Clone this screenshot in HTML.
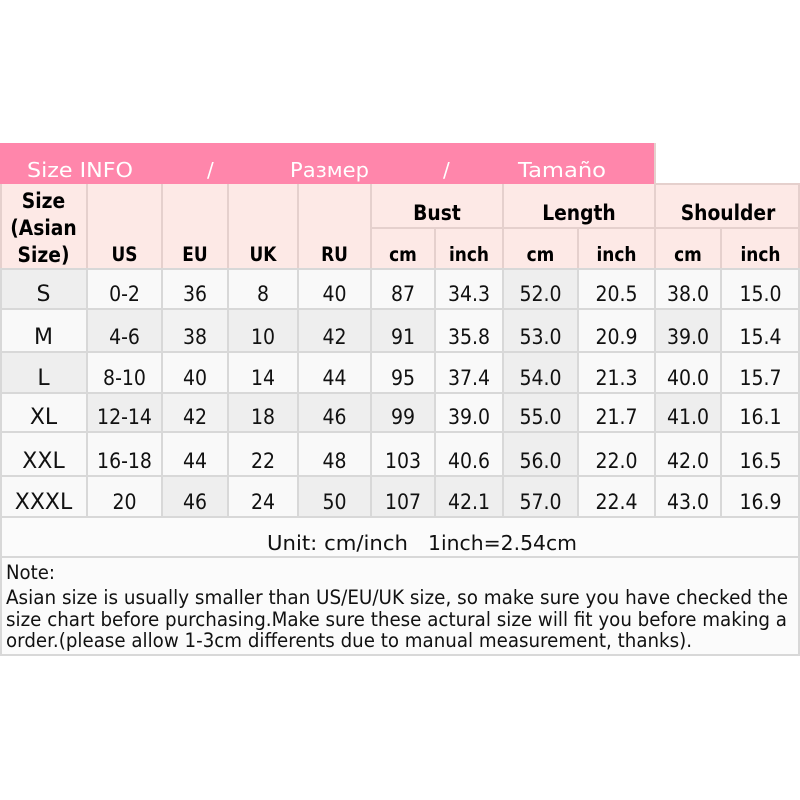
<!DOCTYPE html>
<html><head><meta charset="utf-8"><style>
html,body{margin:0;padding:0;background:#fff;}
svg{display:block;}
text{font-family:"DejaVu Sans","Liberation Sans",sans-serif;}
</style></head><body>
<svg width="800" height="800" viewBox="0 0 800 800" xmlns="http://www.w3.org/2000/svg">
<rect x="0" y="0" width="800" height="800" fill="#ffffff"/>
<!-- pink title band -->
<rect x="0" y="143" width="655" height="41" fill="#ff86ab"/>
<g fill="#ffffff" font-size="20">
<text x="27" y="177" textLength="106" lengthAdjust="spacingAndGlyphs">Size INFO</text>
<text x="207" y="177">/</text>
<text x="290" y="177" textLength="79" lengthAdjust="spacingAndGlyphs">Размер</text>
<text x="443" y="177">/</text>
<text x="518" y="177" textLength="88" lengthAdjust="spacingAndGlyphs">Tamaño</text>
</g>
<!-- header bg -->
<rect x="0" y="184" width="800" height="85" fill="#fde9e6"/>
<!-- data bg -->
<rect x="0" y="269" width="800" height="386" fill="#f9f9f9"/>
<g fill="#eeeeee">
<rect x="0" y="269" width="87" height="40"/>
<rect x="503" y="269" width="75" height="40"/>
<rect x="87" y="309" width="75" height="43"/>
<rect x="162" y="309" width="66" height="43" fill="#f2f2f2"/>
<rect x="228" y="309" width="70" height="43"/>
<rect x="298" y="309" width="73" height="43"/>
<rect x="371" y="309" width="64" height="43"/>
<rect x="503" y="309" width="75" height="43"/>
<rect x="655" y="309" width="66" height="43"/>
<rect x="0" y="352" width="87" height="41"/>
<rect x="503" y="352" width="75" height="41"/>
<rect x="87" y="393" width="75" height="39"/>
<rect x="162" y="393" width="66" height="39" fill="#f2f2f2"/>
<rect x="228" y="393" width="70" height="39"/>
<rect x="298" y="393" width="73" height="39"/>
<rect x="371" y="393" width="64" height="39"/>
<rect x="503" y="393" width="75" height="39"/>
<rect x="655" y="393" width="66" height="39"/>
<rect x="503" y="432" width="75" height="44"/>
<rect x="162" y="476" width="66" height="41"/>
<rect x="298" y="476" width="73" height="41"/>
<rect x="371" y="476" width="64" height="41"/>
<rect x="435" y="476" width="68" height="41"/>
<rect x="503" y="476" width="75" height="41"/>
</g>
<rect x="0" y="517" width="800" height="138" fill="#fbfbfb"/>

<!-- header lines -->
<g stroke="#e5d0cd" stroke-width="2">
<line x1="655" y1="184" x2="800" y2="184"/>
<line x1="371" y1="228" x2="800" y2="228"/>
<line x1="87" y1="184" x2="87" y2="269"/>
<line x1="162" y1="184" x2="162" y2="269"/>
<line x1="228" y1="184" x2="228" y2="269"/>
<line x1="298" y1="184" x2="298" y2="269"/>
<line x1="371" y1="184" x2="371" y2="269"/>
<line x1="503" y1="184" x2="503" y2="269"/>
<line x1="655" y1="143" x2="655" y2="269"/>
<line x1="435" y1="228" x2="435" y2="269"/>
<line x1="578" y1="228" x2="578" y2="269"/>
<line x1="721" y1="228" x2="721" y2="269"/>
<line x1="1" y1="184" x2="1" y2="269"/>
<line x1="799" y1="184" x2="799" y2="269"/>
</g>
<!-- data lines -->
<g stroke="#d8d8d8" stroke-width="2">
<line x1="0" y1="269" x2="800" y2="269"/>
<line x1="0" y1="309" x2="800" y2="309"/>
<line x1="0" y1="352" x2="800" y2="352"/>
<line x1="0" y1="393" x2="800" y2="393"/>
<line x1="0" y1="432" x2="800" y2="432"/>
<line x1="0" y1="476" x2="800" y2="476"/>
<line x1="0" y1="517" x2="800" y2="517"/>
<line x1="0" y1="557" x2="800" y2="557"/>
<line x1="0" y1="655" x2="800" y2="655"/>
<line x1="87" y1="269" x2="87" y2="517"/>
<line x1="162" y1="269" x2="162" y2="517"/>
<line x1="228" y1="269" x2="228" y2="517"/>
<line x1="298" y1="269" x2="298" y2="517"/>
<line x1="371" y1="269" x2="371" y2="517"/>
<line x1="435" y1="269" x2="435" y2="517"/>
<line x1="503" y1="269" x2="503" y2="517"/>
<line x1="578" y1="269" x2="578" y2="517"/>
<line x1="655" y1="269" x2="655" y2="517"/>
<line x1="721" y1="269" x2="721" y2="517"/>
<line x1="1" y1="269" x2="1" y2="655"/>
<line x1="799" y1="269" x2="799" y2="655"/>
</g>

<!-- header text (compressed horizontally) -->
<g fill="#000" font-weight="bold" text-anchor="middle" transform="scale(0.87,1)">
<text x="50" y="208" font-size="21.5">Size</text>
<text x="50" y="235" font-size="21.5">(Asian</text>
<text x="50" y="262" font-size="21.5">Size)</text>
<g font-size="19.5">
<text x="143.1" y="261">US</text>
<text x="224.14" y="261">EU</text>
<text x="302.3" y="261">UK</text>
<text x="384.48" y="261">RU</text>
<text x="463.22" y="261">cm</text>
<text x="539.08" y="261">inch</text>
<text x="621.26" y="261">cm</text>
<text x="708.62" y="261">inch</text>
<text x="790.8" y="261">cm</text>
<text x="874.14" y="261">inch</text>
</g>
<g font-size="21.5">
<text x="502.3" y="220">Bust</text>
<text x="665.5" y="220">Length</text>
<text x="836.8" y="220">Shoulder</text>
</g>
</g>

<!-- size column -->
<g fill="#111" font-size="22" text-anchor="middle">
<text x="43.5" y="301">S</text>
<text x="43.5" y="344">M</text>
<text x="43.5" y="385">L</text>
<text x="43.5" y="424">XL</text>
<text x="43.5" y="468">XXL</text>
<text x="43.5" y="509">XXXL</text>
</g>

<!-- data text (compressed horizontally) -->
<g fill="#111" font-size="21" text-anchor="middle" transform="scale(0.9,1)">
<g>
<text x="138.33" y="301">0-2</text><text x="216.67" y="301">36</text><text x="292.22" y="301">8</text><text x="371.67" y="301">40</text><text x="447.78" y="301">87</text><text x="521.11" y="301">34.3</text><text x="600.56" y="301">52.0</text><text x="685" y="301">20.5</text><text x="764.44" y="301">38.0</text><text x="845" y="301">15.0</text>
</g>
<g>
<text x="138.33" y="344">4-6</text><text x="216.67" y="344">38</text><text x="292.22" y="344">10</text><text x="371.67" y="344">42</text><text x="447.78" y="344">91</text><text x="521.11" y="344">35.8</text><text x="600.56" y="344">53.0</text><text x="685" y="344">20.9</text><text x="764.44" y="344">39.0</text><text x="845" y="344">15.4</text>
</g>
<g>
<text x="138.33" y="385">8-10</text><text x="216.67" y="385">40</text><text x="292.22" y="385">14</text><text x="371.67" y="385">44</text><text x="447.78" y="385">95</text><text x="521.11" y="385">37.4</text><text x="600.56" y="385">54.0</text><text x="685" y="385">21.3</text><text x="764.44" y="385">40.0</text><text x="845" y="385">15.7</text>
</g>
<g>
<text x="138.33" y="424">12-14</text><text x="216.67" y="424">42</text><text x="292.22" y="424">18</text><text x="371.67" y="424">46</text><text x="447.78" y="424">99</text><text x="521.11" y="424">39.0</text><text x="600.56" y="424">55.0</text><text x="685" y="424">21.7</text><text x="764.44" y="424">41.0</text><text x="845" y="424">16.1</text>
</g>
<g>
<text x="138.33" y="468">16-18</text><text x="216.67" y="468">44</text><text x="292.22" y="468">22</text><text x="371.67" y="468">48</text><text x="447.78" y="468">103</text><text x="521.11" y="468">40.6</text><text x="600.56" y="468">56.0</text><text x="685" y="468">22.0</text><text x="764.44" y="468">42.0</text><text x="845" y="468">16.5</text>
</g>
<g>
<text x="138.33" y="509">20</text><text x="216.67" y="509">46</text><text x="292.22" y="509">24</text><text x="371.67" y="509">50</text><text x="447.78" y="509">107</text><text x="521.11" y="509">42.1</text><text x="600.56" y="509">57.0</text><text x="685" y="509">22.4</text><text x="764.44" y="509">43.0</text><text x="845" y="509">16.9</text>
</g>
</g>

<!-- unit row -->
<g fill="#111" font-size="20.5">
<text x="267" y="550" textLength="141" lengthAdjust="spacingAndGlyphs">Unit: cm/inch</text>
<text x="428" y="550" textLength="149" lengthAdjust="spacingAndGlyphs">1inch=2.54cm</text>
</g>

<!-- note -->
<g fill="#111" font-size="19.5">
<text x="6" y="579" textLength="49" lengthAdjust="spacingAndGlyphs">Note:</text>
<text x="6" y="604" textLength="782" lengthAdjust="spacingAndGlyphs">Asian size is usually smaller than US/EU/UK size, so make sure you have checked the</text>
<text x="6" y="626" textLength="781" lengthAdjust="spacingAndGlyphs">size chart before purchasing.Make sure these actural size will fit you before making a</text>
<text x="6" y="647" textLength="686" lengthAdjust="spacingAndGlyphs">order.(please allow 1-3cm differents due to manual measurement, thanks).</text>
</g>
</svg>
</body></html>
